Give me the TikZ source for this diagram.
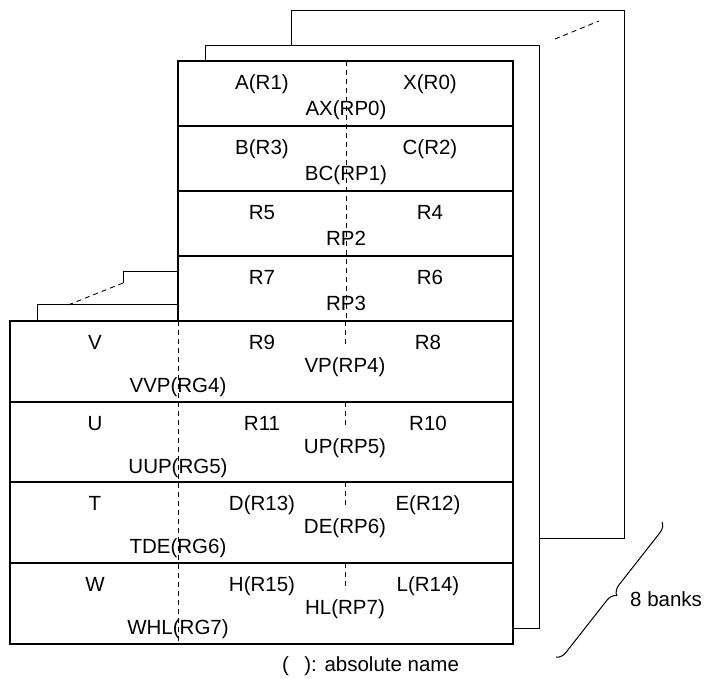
\documentclass[tikz,border=0pt]{standalone}
\usepackage{fontspec}
\setmainfont{Liberation Sans}
\usetikzlibrary{decorations.pathreplacing}
\begin{document}
\begin{tikzpicture}[x=1pt,y=-1pt,
  font=\fontsize{20.5}{24}\selectfont,
  front/.style={line width=2pt},
  back/.style={line width=1pt},
  dsh/.style={line width=0.9pt, dash pattern=on 5pt off 4pt},
  lbl/.style={inner sep=0pt, text height=14.7pt, text depth=0pt}]
\useasboundingbox (0,0) rectangle (705,679);
% third (last) bank
\draw[back] (291,46) -- (291,10.5) -- (624,10.5) -- (624,538) -- (539,538);
\draw[back] (178,272) -- (123,272) -- (123,283);
% second bank
\draw[back] (205,61) -- (205,46) -- (539,46) -- (539,628) -- (513,628);
\draw[back] (178,305) -- (37,305) -- (37,321);
% intermediate banks
\coordinate (d1a) at (555,39); \coordinate (d1b) at (599,21);
\coordinate (d2a) at (123,283); \coordinate (d2b) at (68,305);
\draw[dsh] (d1a) -- (d1b);
\draw[dsh] (d2a) -- (d2b);
% front bank
\draw[front] (178,61) rectangle (513,321);
\foreach \y in {126,191,256} \draw[front] (178,\y) -- (513,\y);
\draw[front] (10,321) rectangle (513,644);
\foreach \y in {402,482,563} \draw[front] (10,\y) -- (513,\y);
% dashed separators
\draw[dsh] (346,61) -- (346,321);
\draw[dsh] (178,321) -- (178,644);
\foreach \y in {321,402,482,563} \draw[dsh] (345,\y) -- (345,{\y+26});
% upper rows
\foreach \t/\a/\b/\c [count=\i] in {61/A(R1)/X(R0)/AX(RP0), 126/B(R3)/C(R2)/BC(RP1), 191/R5/R4/RP2, 256/R7/R6/RP3}{
  \node[lbl] (ua\i) at (262,{\t+21.5}) {\a};
  \node[lbl] (ub\i) at (430,{\t+21.5}) {\b};
  \node[lbl] (uc\i) at (346,{\t+47.5}) {\c};
}
% lower rows
\foreach \t/\a/\b/\c/\d/\e [count=\i] in {321/V/R9/R8/VP(RP4)/VVP(RG4), 402/U/R11/R10/UP(RP5)/UUP(RG5), 482/T/D(R13)/E(R12)/DE(RP6)/TDE(RG6), 563/W/H(R15)/L(R14)/HL(RP7)/WHL(RG7)}{
  \node[lbl] (la\i) at (95,{\t+21}) {\a};
  \node[lbl] (lb\i) at (262,{\t+21}) {\b};
  \node[lbl] (lc\i) at (428,{\t+21}) {\c};
  \node[lbl] (ld\i) at (345,{\t+44}) {\d};
  \node[lbl] (le\i) at (178,{\t+64}) {\e};
}
% brace
\coordinate (bt) at (662,522); \coordinate (bb) at (556,657);
\draw[back, decorate, decoration={brace, amplitude=10pt}] (bt) -- (bb);
\node[lbl, anchor=west] (banks) at (630,599) {8 banks};
\node[lbl, anchor=west] (note) at (282,664) {(\hspace{0.75em}): absolute name};
\end{tikzpicture}
\end{document}
